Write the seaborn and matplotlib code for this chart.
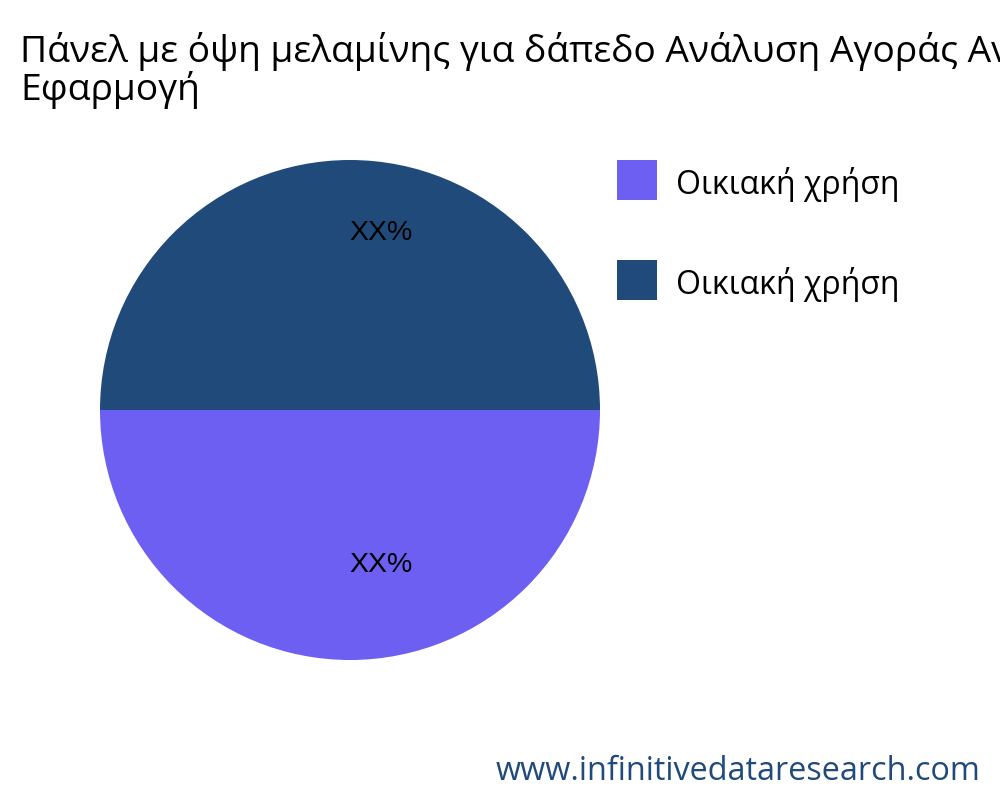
import matplotlib
matplotlib.use("Agg")
import matplotlib.pyplot as plt
import seaborn as sns

# chart data
title = "Πάνελ με όψη μελαμίνης για δάπεδο Ανάλυση Αγοράς Ανά\nΕφαρμογή"
segments = ["Οικιακή χρήση", "Οικιακή χρήση"]
shares = [50, 50]
pct_labels = ["XX%", "XX%"]
colors = ["#6C5FF1", "#1F4A7A"]
watermark = "www.infinitivedataresearch.com"

sns.set_theme(style="white")
plt.rcParams['font.family'] = ['Open Sans', 'DejaVu Sans']
palette = sns.color_palette(colors)

fig = plt.figure(figsize=(10, 8), dpi=100)
ax = fig.add_axes([0.1, 0.175, 0.5, 0.625])

wedges, texts, autotexts = ax.pie(
    shares, colors=palette, startangle=180, counterclock=True,
    autopct=lambda p: "", pctdistance=0.68,
    wedgeprops=dict(linewidth=0))
ax.set_xlim(-1, 1)
ax.set_ylim(-1, 1)
ax.set_aspect("equal")

# percentage labels, a little right of the slice middle
for t, lab in zip(autotexts, pct_labels):
    x, y = t.get_position()
    t.set_position((x + 0.125, 0.71 if y > 0 else -0.62))
    t.set_text(lab)
    t.set_fontsize(20.5)
    t.set_family(['Liberation Sans', 'DejaVu Sans'])
    t.set_color("black")

# title runs past the right edge, as in the original
fig.text(0.02, 0.875, title, fontsize=26.8, ha="left", va="baseline",
         color="black", linespacing=1.0)

leg = fig.legend(wedges, segments, loc="upper left", bbox_to_anchor=(0.601, 0.812),
                 frameon=False, fontsize=23, handlelength=1.25, handleheight=1.25,
                 handletextpad=0.6, labelspacing=2.0, borderpad=0, labelcolor="black")
for h in leg.legend_handles:
    h.set_height(h.get_width())

fig.text(0.98, 0.025, watermark, ha="right", va="baseline",
         fontsize=23.3, color="#1F4A7A")

fig.savefig("out.png", dpi=100)
